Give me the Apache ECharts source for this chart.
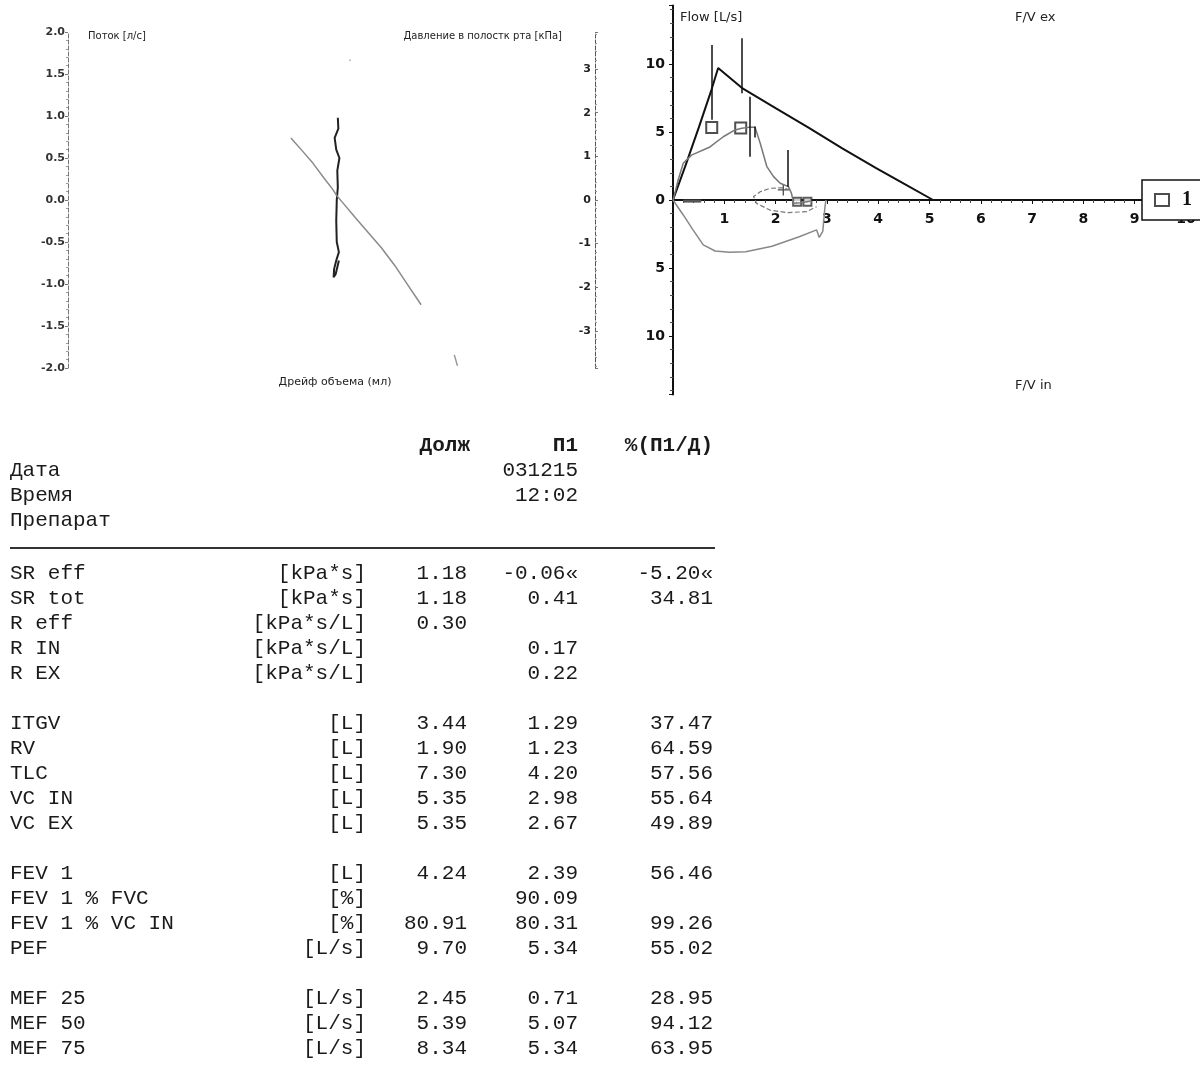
<!DOCTYPE html>
<html>
<head>
<meta charset="utf-8">
<title>Бодиплетизмография</title>
<script src="https://cdn.jsdelivr.net/npm/echarts@6.0.0/dist/echarts.min.js"></script>
<style>
  html, body { margin: 0; padding: 0; background: #fff; }
  #main { width: 1200px; height: 1065px; }
</style>
</head>
<body>
<div id="main"></div>
<script>
// ---- left plot: flow / mouth pressure vs volume drift ----
const flowTrace = [[51.2, 0.98], [51.3, 0.85], [50.6, 0.74], [50.9, 0.6], [51.5, 0.5], [51.1, 0.35],
  [51.2, 0.15], [51.0, 0.0], [50.9, -0.25], [51.0, -0.5], [51.4, -0.62], [50.9, -0.72],
  [50.5, -0.82], [50.4, -0.92], [50.8, -0.88], [51.4, -0.72]];
const pressureTrace = [[42.3, 1.42], [44.5, 1.12], [46.5, 0.84], [48.6, 0.5], [50.2, 0.25], [51.0, 0.1],
  [52.4, -0.1], [54.5, -0.4], [57.0, -0.75], [59.5, -1.1], [62.0, -1.5], [64.5, -1.95], [67.0, -2.4]];
const pressureTail = [[73.3, -3.55], [73.9, -3.8]];
const pressureDot = [[53.5, 3.2]];

// ---- right plot: flow / volume loop ----
const predCurve = [[0, 0], [0.25, 2.6], [0.5, 5.3], [0.75, 8.1], [0.88, 9.7], [1.34, 8.25], [2.0, 6.75],
  [2.65, 5.3], [3.3, 3.8], [3.96, 2.35], [4.5, 1.2], [5.07, 0]];
const expCurve = [[0, 0], [0.02, 0.25], [0.1, 1.47], [0.2, 2.7], [0.36, 3.3], [0.72, 3.9], [0.98, 4.65],
  [1.21, 5.15], [1.34, 5.27], [1.47, 5.34], [1.6, 5.34], [1.7, 4.17], [1.83, 2.45], [1.96, 1.72],
  [2.09, 1.23], [2.25, 0.98], [2.31, 0.49], [2.35, -0.24], [2.5, -0.2], [2.67, -0.1]];
const inspCurve = [[0, 0], [0.2, -1.1], [0.39, -2.2], [0.59, -3.3], [0.82, -3.75], [1.1, -3.85], [1.42, -3.8],
  [1.93, -3.4], [2.46, -2.7], [2.8, -2.2], [2.85, -2.75], [2.92, -2.3], [2.96, -0.6], [2.98, 0]];
const repeatLoop = [[2.28, 0.74], [2.12, 0.9], [1.89, 0.86], [1.7, 0.61], [1.57, 0.25], [1.63, -0.25],
  [1.89, -0.74], [2.22, -0.93], [2.6, -0.86], [2.8, -0.49]];
const baseDash = [[0.2, -0.08], [0.55, -0.08]];
// vertical marker bars: [x, yTop, yBottom]
const markerBars = [[0.755, 11.4, 5.9], [1.34, 11.9, 7.85], [1.5, 7.6, 3.18], [2.235, 3.68, 0.98], [1.6, 5.4, 4.6]];
const pefMarks = [[0.755, 5.33], [1.32, 5.29]];
const endMarks = [[2.42, -0.12], [2.62, -0.12]];
const plusMarks = [[2.15, 0.74]];

// ---- table ----
const colTitles = ['Долж', 'П1', '%(П1/Д)'];
const headNames = ['Дата', 'Время', 'Препарат'];
const headP1 = ['031215', '12:02', ''];
const rowNames = ['SR eff', 'SR tot', 'R eff', 'R IN', 'R EX', '',
  'ITGV', 'RV', 'TLC', 'VC IN', 'VC EX', '',
  'FEV 1', 'FEV 1 % FVC', 'FEV 1 % VC IN', 'PEF', '',
  'MEF 25', 'MEF 50', 'MEF 75'];
const rowUnits = ['[kPa*s]', '[kPa*s]', '[kPa*s/L]', '[kPa*s/L]', '[kPa*s/L]', '',
  '[L]', '[L]', '[L]', '[L]', '[L]', '',
  '[L]', '[%]', '[%]', '[L/s]', '',
  '[L/s]', '[L/s]', '[L/s]'];
const predVals = ['1.18', '1.18', '0.30', '', '', '',
  '3.44', '1.90', '7.30', '5.35', '5.35', '',
  '4.24', '', '80.91', '9.70', '',
  '2.45', '5.39', '8.34'];
const p1Vals = ['-0.06«', '0.41', '', '0.17', '0.22', '',
  '1.29', '1.23', '4.20', '2.98', '2.67', '',
  '2.39', '90.09', '80.31', '5.34', '',
  '0.71', '5.07', '5.34'];
const pctVals = ['-5.20«', '34.81', '', '', '', '',
  '37.47', '64.59', '57.56', '55.64', '49.89', '',
  '56.46', '', '99.26', '55.02', '',
  '28.95', '94.12', '63.95'];

const chart = echarts.init(document.getElementById('main'));

const sans = 'DejaVu Sans';
const mono = 'Liberation Mono';
const tableFont = { fontFamily: mono, fontSize: 21, fill: '#1a1a1a' };

function txt(x, y, text, align, extra) {
  return {
    type: 'text', x: x, y: y, silent: true,
    style: Object.assign({ text: text, align: align, verticalAlign: 'middle' }, tableFont, extra || {})
  };
}

// table graphic
const graphics = [];
graphics.push(txt(470, 446, colTitles[0], 'right', { fontWeight: 'bold' }));
graphics.push(txt(578, 446, colTitles[1], 'right', { fontWeight: 'bold' }));
graphics.push(txt(713, 446, colTitles[2], 'right', { fontWeight: 'bold' }));
headNames.forEach((n, i) => {
  const y = 470 + i * 25;
  graphics.push(txt(10, y, n, 'left'));
  if (headP1[i]) graphics.push(txt(578, y, headP1[i], 'right'));
});
graphics.push({
  type: 'line', silent: true,
  shape: { x1: 10, y1: 548, x2: 715, y2: 548 },
  style: { stroke: '#333', lineWidth: 2 }
});
rowNames.forEach((n, i) => {
  if (!n) return;
  const y = 573 + i * 25;
  graphics.push(txt(10, y, n, 'left'));
  graphics.push(txt(366, y, rowUnits[i], 'right'));
  if (predVals[i]) graphics.push(txt(467, y, predVals[i], 'right'));
  if (p1Vals[i]) graphics.push(txt(578, y, p1Vals[i], 'right'));
  if (pctVals[i]) graphics.push(txt(713, y, pctVals[i], 'right'));
});

// plot captions
const capt = (x, y, t, size, align) => ({
  type: 'text', x: x, y: y, silent: true,
  style: { text: t, fontFamily: sans, fontSize: size, fill: '#222', align: align || 'left', verticalAlign: 'middle' }
});
graphics.push(capt(88, 36, 'Поток [л/с]', 10));
graphics.push(capt(562, 36, 'Давление в полостк рта [кПа]', 10, 'right'));
graphics.push(capt(335, 382, 'Дрейф объема (мл)', 11, 'center'));
graphics.push(capt(680, 18, 'Flow [L/s]', 13));
graphics.push(capt(1015, 18, 'F/V ex', 13));
graphics.push(capt(1015, 386, 'F/V in', 13));

const rightGridH = 389;

const option = {
  animation: false,
  backgroundColor: '#fff',
  textStyle: { fontFamily: sans },
  grid: [
    { left: 68, top: 32, width: 527, height: 336 },
    { left: 673, top: 5.5, width: 513, height: rightGridH }
  ],
  legend: {
    data: [{ name: '1', icon: 'emptyRect' }],
    left: 1142, top: 180,
    backgroundColor: '#fff',
    borderColor: '#111', borderWidth: 1.5, borderRadius: 0,
    padding: [10, 14, 10, 12],
    itemWidth: 14, itemHeight: 12, itemGap: 6,
    selectedMode: false,
    textStyle: { fontFamily: 'Liberation Serif', fontSize: 20, fontWeight: 'bold', color: '#111', padding: [0, 0, 0, 8] }
  },
  xAxis: [
    { gridIndex: 0, type: 'value', min: 0, max: 100, show: false },
    {
      // x axis drawn through flow = 0 (middle of the grid)
      gridIndex: 1, type: 'value', min: 0, max: 10, interval: 1,
      position: 'bottom', offset: -rightGridH / 2,
      axisLine: { onZero: false, lineStyle: { color: '#111', width: 2 } },
      axisTick: { show: true, length: 4, lineStyle: { color: '#111' } },
      minorTick: { show: true, splitNumber: 5, length: 3, lineStyle: { color: '#444' } },
      splitLine: { show: false },
      axisLabel: {
        formatter: v => (v === 0 ? '' : String(v)),
        fontSize: 14, fontWeight: 'bold', color: '#111', margin: 12
      }
    }
  ],
  yAxis: [
    {
      gridIndex: 0, type: 'value', min: -2, max: 2, interval: 0.5, position: 'left',
      axisLine: { show: true, onZero: false, lineStyle: { color: '#777', type: 'dashed' } },
      axisTick: { show: true, length: 3, lineStyle: { color: '#777' } },
      minorTick: { show: true, splitNumber: 5, length: 2, lineStyle: { color: '#999' } },
      splitLine: { show: false },
      axisLabel: { formatter: v => v.toFixed(1), fontSize: 11, fontWeight: 'bold', color: '#333', margin: 3 }
    },
    {
      gridIndex: 0, type: 'value', min: -3.85, max: 3.85, splitNumber: 8, position: 'right',
      axisLine: { show: true, onZero: false, lineStyle: { color: '#555', type: 'dashed' } },
      axisTick: { show: true, length: 3, lineStyle: { color: '#777' } },
      minorTick: { show: true, splitNumber: 5, length: 2, lineStyle: { color: '#999' } },
      splitLine: { show: false },
      axisLabel: {
        inside: true, margin: 4, fontSize: 11, fontWeight: 'bold', color: '#222',
        formatter: v => (Number.isInteger(v) ? String(v) : '')
      }
    },
    {
      gridIndex: 1, type: 'value', min: -14.3, max: 14.3,
      axisLine: { show: true, onZero: false, lineStyle: { color: '#111', width: 2 } },
      axisTick: { show: true, length: 4, lineStyle: { color: '#111' } },
      minorTick: { show: true, splitNumber: 5, length: 3, lineStyle: { color: '#555' } },
      splitLine: { show: false },
      axisLabel: {
        fontSize: 14, fontWeight: 'bold', color: '#111', margin: 8,
        formatter: v => (Math.abs(v % 5) < 1e-9 ? String(Math.abs(v)) : '')
      }
    }
  ],
  series: [
    // left plot
    {
      type: 'line', xAxisIndex: 0, yAxisIndex: 0, data: flowTrace, showSymbol: false, silent: true,
      lineStyle: { color: '#222', width: 2 }
    },
    {
      type: 'line', xAxisIndex: 0, yAxisIndex: 1, data: pressureTrace, showSymbol: false, silent: true,
      lineStyle: { color: '#8a8a8a', width: 1.5 }
    },
    {
      type: 'line', xAxisIndex: 0, yAxisIndex: 1, data: pressureTail, showSymbol: false, silent: true,
      lineStyle: { color: '#999', width: 1.5 }
    },
    {
      type: 'scatter', xAxisIndex: 0, yAxisIndex: 1, data: pressureDot, symbolSize: 2, silent: true,
      itemStyle: { color: '#aaa' }
    },
    // right plot
    {
      type: 'line', xAxisIndex: 1, yAxisIndex: 2, data: predCurve, showSymbol: false, silent: true,
      lineStyle: { color: '#111', width: 2 }
    },
    {
      type: 'line', xAxisIndex: 1, yAxisIndex: 2, data: expCurve, showSymbol: false, silent: true,
      lineStyle: { color: '#777', width: 1.5 },
      markLine: {
        silent: true, symbol: ['none', 'none'], animation: false,
        label: { show: false },
        lineStyle: { color: '#111', type: 'solid', width: 1.5 },
        data: markerBars.map(b => [{ coord: [b[0], b[1]] }, { coord: [b[0], b[2]] }])
      }
    },
    {
      type: 'line', xAxisIndex: 1, yAxisIndex: 2, data: inspCurve, showSymbol: false, silent: true,
      lineStyle: { color: '#888', width: 1.5 }
    },
    {
      type: 'line', xAxisIndex: 1, yAxisIndex: 2, data: repeatLoop, showSymbol: false, silent: true,
      lineStyle: { color: '#777', width: 1.2, type: 'dashed' }
    },
    {
      type: 'line', xAxisIndex: 1, yAxisIndex: 2, data: baseDash, showSymbol: false, silent: true,
      lineStyle: { color: '#555', width: 3 }
    },
    {
      name: '1', type: 'scatter', xAxisIndex: 1, yAxisIndex: 2, data: pefMarks, silent: true,
      symbol: 'emptyRect', symbolSize: 11,
      itemStyle: { color: '#222', borderColor: '#222', borderWidth: 1.5 }
    },
    {
      type: 'scatter', xAxisIndex: 1, yAxisIndex: 2, data: endMarks, silent: true,
      symbol: 'emptyRect', symbolSize: 8,
      itemStyle: { color: '#333', borderColor: '#333', borderWidth: 1.2 }
    },
    {
      type: 'scatter', xAxisIndex: 1, yAxisIndex: 2, data: plusMarks, silent: true,
      symbol: 'path://M4.4,0H5.6V4.4H10V5.6H5.6V10H4.4V5.6H0V4.4H4.4Z', symbolSize: 11,
      itemStyle: { color: '#222' }
    }
  ],
  graphic: graphics
};

chart.setOption(option);
</script>
</body>
</html>
